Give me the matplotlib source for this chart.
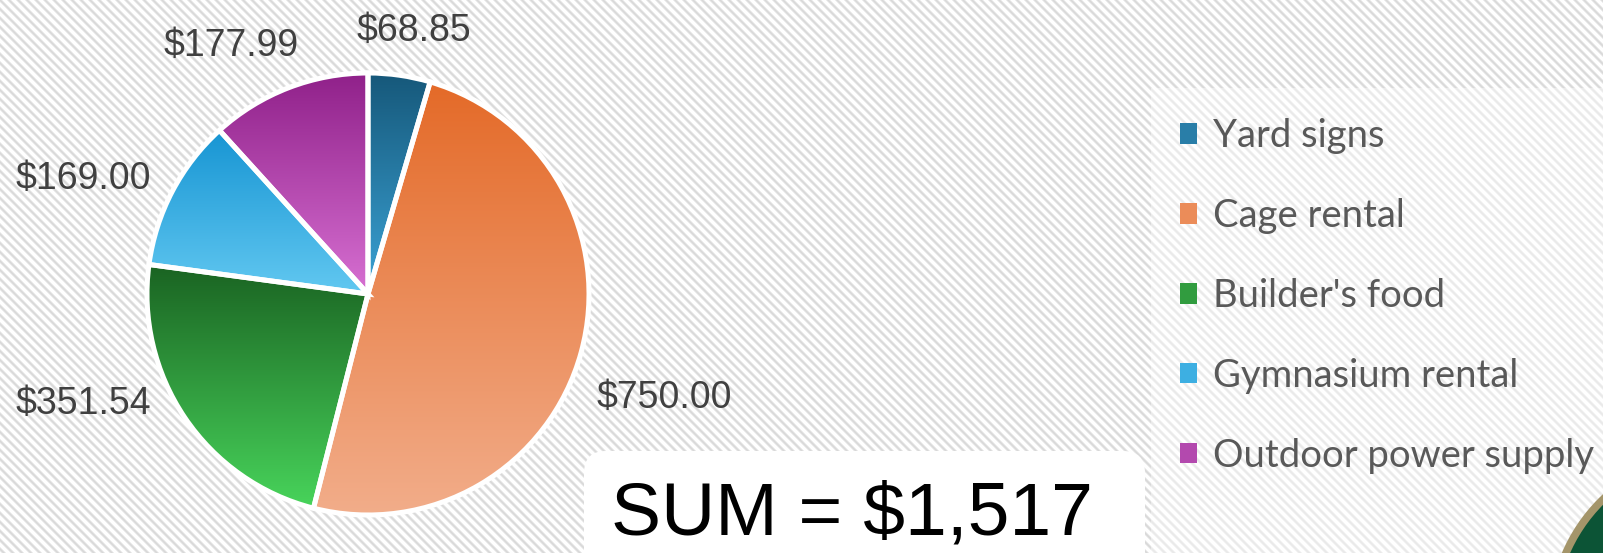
import numpy as np
import matplotlib
matplotlib.use("Agg")
import matplotlib.pyplot as plt
from matplotlib.patches import FancyBboxPatch, Circle, Patch
from matplotlib.colors import LinearSegmentedColormap, to_rgb

# ---------------- data ----------------
categories = ["Yard signs", "Cage rental", "Builder's food", "Gymnasium rental", "Outdoor power supply"]
amounts = [68.85, 750.00, 351.54, 169.00, 177.99]
value_labels = ["$68.85", "$750.00", "$351.54", "$169.00", "$177.99"]
total_label = "SUM = $1,517"

# ---------------- style ----------------
top_colors = ["#16587a", "#e46a28", "#1a6322", "#1795d3", "#90218a"]
bottom_colors = ["#3ba3d6", "#f2ad8a", "#48d45b", "#62c8f1", "#d770d2"]
# label anchor positions in pie units (radius = 1)
label_pos = [(0.21, 1.19), (1.34, -0.47), (-1.29, -0.50), (-1.29, 0.52), (-0.62, 1.12)]

W, H, DPI = 1603, 553, 100
fig = plt.figure(figsize=(W / DPI, H / DPI), dpi=DPI)

# ---------------- striped background ----------------
bg = fig.add_axes([0, 0, 1, 1], zorder=0)
bg.set_axis_off()
yy, xx = np.mgrid[0:H, 0:W]
period = 9.0
wave = 0.5 + 0.5 * np.cos(2 * np.pi * (xx - yy) / period)
wave = np.clip((wave - 0.3) / 0.7, 0, 1)
amp = np.full((H, W), 0.15)
amp[(xx > 1150) & (yy > 87)] = 0.085
level = 1.0 - amp * wave
img = np.dstack([level, level, level])
bg.imshow(img, extent=[0, W, H, 0], aspect="auto", interpolation="nearest")
bg.set_xlim(0, W)
bg.set_ylim(H, 0)

# ---------------- pie ----------------
cx, cy, R = 368, 294, 221
ax = fig.add_axes([(cx - R) / W, (H - cy - R) / H, 2 * R / W, 2 * R / H], zorder=1)
wedges, texts = ax.pie(amounts, labels=value_labels, startangle=90, counterclock=False,
                       radius=1.0,
                       wedgeprops=dict(edgecolor="white", linewidth=3.6),
                       textprops=dict(fontsize=27, color="#404040", family="Liberation Sans"))
grad = np.linspace(0, 1, 256).reshape(-1, 1)
for w, c0, c1 in zip(wedges, top_colors, bottom_colors):
    ext = w.get_path().get_extents()
    cmap = LinearSegmentedColormap.from_list("g", [c0, c1])
    im = ax.imshow(grad, cmap=cmap, extent=[ext.x0, ext.x1, ext.y0, ext.y1],
                   origin="upper", aspect="auto", interpolation="bilinear", zorder=1)
    im.set_clip_path(w)
    w.set_facecolor("none")
    w.set_zorder(3)
    w.set_clip_on(False)
for t, (lx, ly) in zip(texts, label_pos):
    t.set_position((lx, ly))
    t.set_ha("center")
    t.set_va("center")
ax.set_xlim(-1, 1)
ax.set_ylim(-1, 1)
ax.set_aspect("equal")
ax.set_axis_off()

# ---------------- overlay (sum box, corner decoration) ----------------
ov = fig.add_axes([0, 0, 1, 1], zorder=2)
ov.set_xlim(0, W)
ov.set_ylim(H, 0)
ov.set_axis_off()
ov.patch.set_visible(False)
box = FancyBboxPatch((584, 451), 1145 - 584, 160, boxstyle="round,pad=0,rounding_size=22",
                     facecolor="white", edgecolor="none")
ov.add_patch(box)
ov.text(852, 535, total_label, ha="center", va="baseline", fontsize=54,
        color="black", family="Liberation Sans")
ring = Circle((1720, 620), 168, facecolor="#0c5436", edgecolor="#a4956a", linewidth=5.5)
ov.add_patch(ring)

# ---------------- legend ----------------
mid_colors = []
for c0, c1 in zip(top_colors, bottom_colors):
    a, b = np.array(to_rgb(c0)), np.array(to_rgb(c1))
    mid_colors.append(tuple(0.5 * a + 0.5 * b))
handles = [Patch(facecolor=c, edgecolor="none") for c in mid_colors]
leg = fig.legend(handles, categories, loc="center left", bbox_to_anchor=(1180 / W, 1 - 296 / H),
                 frameon=False, prop=dict(family="Lato", size=27.5), labelcolor="#595959",
                 handlelength=0.44, handleheight=0.44, handletextpad=0.42,
                 labelspacing=1.15, borderpad=0, borderaxespad=0)
leg.set_zorder(5)

fig.savefig("out.png", dpi=DPI)
